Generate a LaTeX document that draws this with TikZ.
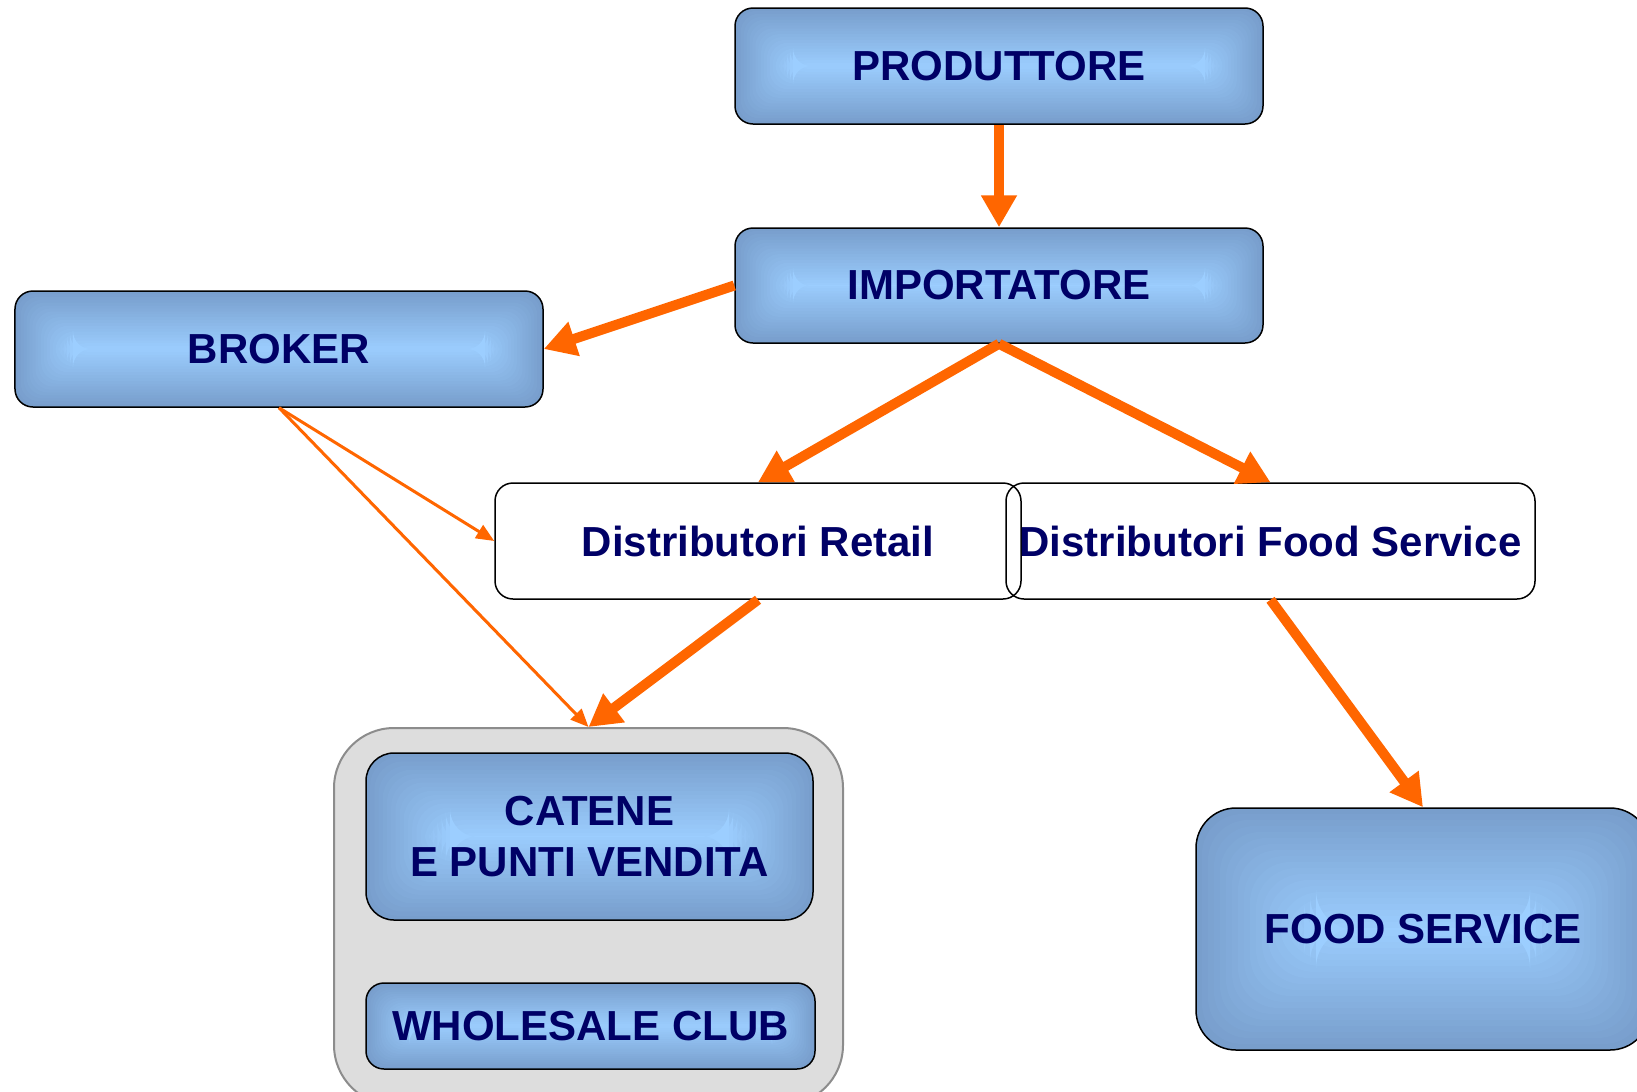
\documentclass[tikz,border=0pt]{standalone}
\usepackage{fontspec}
\setmainfont{Liberation Sans}
\usetikzlibrary{arrows.meta}

\definecolor{navytext}{RGB}{0,0,102}
\definecolor{flow}{RGB}{255,102,0}
\definecolor{bevelout}{RGB}{120,158,204}
\definecolor{bevelin}{RGB}{156,206,255}
\definecolor{groupfill}{RGB}{221,221,221}
\definecolor{groupline}{RGB}{140,140,140}

\tikzset{
  % nested insets give the bevelled blue fill
  bevel/.style={
    path picture={
      \foreach \i [evaluate=\i as \pct using int(\i*5)] in {0,...,20}{
        \fill[bevelin!\pct!bevelout]
          ([xshift={(\i*#1)*1bp}, yshift={(\i*#1)*1bp}]path picture bounding box.south west)
          rectangle
          ([xshift={-(\i*#1)*1bp}, yshift={-(\i*#1)*1bp}]path picture bounding box.north east);
      }
    }
  },
  label font/.style={font=\bfseries\fontsize{42bp}{51bp}\selectfont, text=navytext, align=center},
  bluebox/.style={draw=black, line width=1.5bp, rounded corners=#1, label font, inner sep=0pt},
  whitebox/.style={draw=black, line width=1.5bp, rounded corners=18bp, label font, inner sep=0pt},
  groupbox/.style={draw=groupline, line width=2bp, fill=groupfill, rounded corners=60bp, inner sep=0pt},
  bigflow/.style={draw=flow, line width=10bp, -{Triangle[length=32bp,width=34bp]}},
  thinflow/.style={draw=flow, line width=3bp, -{Triangle[length=18bp,width=15bp]}}
}

\begin{document}
\begin{tikzpicture}[x=1bp,y=-1bp]
  \useasboundingbox (0,0) rectangle (1637,1091);
  \fill[white] (0,0) rectangle (1637,1091);
  \clip (0,0) rectangle (1637,1091);

  % supply chain stages
  \node[bluebox=18bp, bevel=2.9, minimum width=528bp, minimum height=116bp] (prod) at (999,66) {PRODUTTORE};
  \node[bluebox=18bp, bevel=2.9, minimum width=528bp, minimum height=115bp] (imp) at (999,285.5) {IMPORTATORE};
  \node[bluebox=18bp, bevel=2.9, minimum width=528bp, minimum height=116bp] (broker) at (279,349) {BROKER};

  \node[whitebox, minimum width=526bp, minimum height=116bp] (retail) at (758,541) {Distributori Retail};
  \node[whitebox, minimum width=529bp, minimum height=116bp] (fsdist) at (1270.5,541) {Distributori Food Service};

  % retail outlets grouped together
  \node[groupbox, minimum width=509bp, minimum height=377bp] (group) at (588.5,916.5) {};
  \node[bluebox=28bp, bevel=4.2, minimum width=447bp, minimum height=167bp] (catene) at (589.5,836.5) {CATENE\\E PUNTI VENDITA};
  \node[bluebox=18bp, bevel=2.15, minimum width=449bp, minimum height=86bp] (club) at (590.5,1026) {WHOLESALE CLUB};

  \node[bluebox=40bp, bevel=6, minimum width=454bp, minimum height=242bp] (food) at (1423,929) {FOOD SERVICE};

  % flows
  \draw[bigflow] (prod.south) -- (imp.north);
  \draw[bigflow] (imp.west) -- (broker.east);
  \draw[bigflow] (imp.south) -- (retail.north);
  \draw[bigflow] (imp.south) -- (fsdist.north);
  \draw[bigflow] (retail.south) -- (group.north);
  \draw[bigflow] (fsdist.south) -- (food.north);
  \draw[thinflow] (broker.south) -- (retail.west);
  \draw[thinflow] (broker.south) -- (group.north);
\end{tikzpicture}
\end{document}
